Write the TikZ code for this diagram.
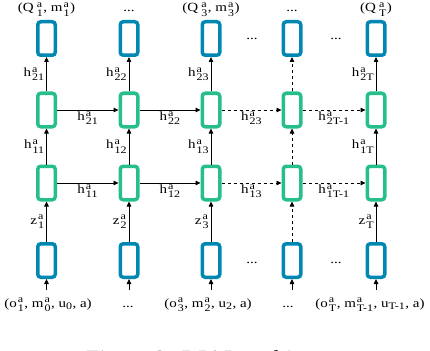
\documentclass[tikz,border=0pt]{standalone}
\usepackage{amsmath}
\usepackage{fontspec}
\setmainfont{Liberation Serif}[FakeStretch=1.2]
\usetikzlibrary{arrows.meta}
\definecolor{boxblue}{RGB}{0,135,178}
\definecolor{boxgreen}{RGB}{38,190,138}
\newcommand{\scr}[1]{\text{\fontsize{10}{10}\selectfont #1}}
\newcommand{\lab}[3]{#1\kern1pt$^{\scr{#2}}_{\scr{#3}}$}
\begin{document}
\begin{tikzpicture}[x=1pt,y=-1pt, font=\fontsize{12.5}{14}\selectfont,
 bbox/.style={draw=boxblue,line width=3.5pt,rounded corners=3pt,minimum width=17.5pt,minimum height=33.5pt,inner sep=0pt},
 gbox/.style={bbox,draw=boxgreen},
 arr/.style={-{Triangle[length=5pt,width=4.5pt]},line width=0.8pt},
 darr/.style={arr,dashed},
 vl/.style={left,inner sep=1.5pt},
 hl/.style={below,inner sep=1pt},
 txt/.style={anchor=base,inner sep=0pt}]
\useasboundingbox (0,0) rectangle (430,350);
\foreach \i/\x in {1/46.5,2/129,3/211,4/292,5/376}{
  \node[bbox] (t\i) at (\x,38.5) {};
  \node[gbox] (u\i) at (\x,110) {};
  \node[gbox] (l\i) at (\x,183) {};
  \node[bbox] (b\i) at (\x,260.5) {};
  \coordinate (in\i) at (\x,290);
  \draw[arr] (in\i) -- (b\i);
}
% vertical arrows
\draw[arr] (u1) -- node[vl] (v21) {\lab{h}{a}{21}} (t1);
\draw[arr] (l1) -- node[vl] (v11) {\lab{h}{a}{11}} (u1);
\draw[arr] (b1) -- node[vl] (z1) {\lab{z}{a}{1}} (l1);
\draw[arr] (u2) -- node[vl] (v22) {\lab{h}{a}{22}} (t2);
\draw[arr] (l2) -- node[vl] (v12) {\lab{h}{a}{12}} (u2);
\draw[arr] (b2) -- node[vl] (z2) {\lab{z}{a}{2}} (l2);
\draw[arr] (u3) -- node[vl] (v23) {\lab{h}{a}{23}} (t3);
\draw[arr] (l3) -- node[vl] (v13) {\lab{h}{a}{13}} (u3);
\draw[arr] (b3) -- node[vl] (z3) {\lab{z}{a}{3}} (l3);
\draw[darr] (u4) -- (t4);
\draw[darr] (l4) -- (u4);
\draw[darr] (b4) -- (l4);
\draw[arr] (u5) -- node[vl] (v2T) {\lab{h}{a}{2T}} (t5);
\draw[arr] (l5) -- node[vl] (v1T) {\lab{h}{a}{1T}} (u5);
\draw[arr] (b5) -- node[vl] (zT) {\lab{z}{a}{T}} (l5);
% horizontal arrows
\draw[arr] (u1) -- node[hl] (hu1) {\lab{h}{a}{21}} (u2);
\draw[arr] (u2) -- node[hl] (hu2) {\lab{h}{a}{22}} (u3);
\draw[darr] (u3) -- node[hl] (hu3) {\lab{h}{a}{23}} (u4);
\draw[darr] (u4) -- node[hl] (hu4) {\lab{h}{a}{2T-1}} (u5);
\draw[arr] (l1) -- node[hl] (hl1) {\lab{h}{a}{11}} (l2);
\draw[arr] (l2) -- node[hl] (hl2) {\lab{h}{a}{12}} (l3);
\draw[darr] (l3) -- node[hl] (hl3) {\lab{h}{a}{13}} (l4);
\draw[darr] (l4) -- node[hl] (hl4) {\lab{h}{a}{1T-1}} (l5);
% top labels
\node[txt] (o1) at (46.5,12) {(Q\,\lab{}{a}{1}, m\lab{}{a}{1})};
\node[txt] (o2) at (129,12) {...};
\node[txt] (o3) at (211,12) {(Q\,\lab{}{a}{3}, m\lab{}{a}{3})};
\node[txt] (o4) at (292,12) {...};
\node[txt] (o5) at (376,12) {(Q\,\lab{}{a}{T})};
% dots between columns
\node[txt] (dt1) at (252,40) {...};
\node[txt] (dt2) at (336,40) {...};
\node[txt] (db1) at (252,263) {...};
\node[txt] (db2) at (336,263) {...};
% bottom labels
\node[txt] (i1) at (48,307) {(o\lab{}{a}{1}, m\lab{}{a}{0}, u$_{\scr{0}}$, a)};
\node[txt] (i2) at (128,307) {...};
\node[txt] (i3) at (208,307) {(o\lab{}{a}{3}, m\lab{}{a}{2}, u$_{\scr{2}}$, a)};
\node[txt] (i4) at (288,307) {...};
\node[txt] (i5) at (370,307) {(o\lab{}{a}{T}, m\lab{}{a}{T-1}, u$_{\scr{T-1}}$, a)};
% caption
\node[txt,font=\fontsize{20}{24}\selectfont] (cap) at (222,364) {Figure 2: DIAL architecture};
\end{tikzpicture}
\end{document}
